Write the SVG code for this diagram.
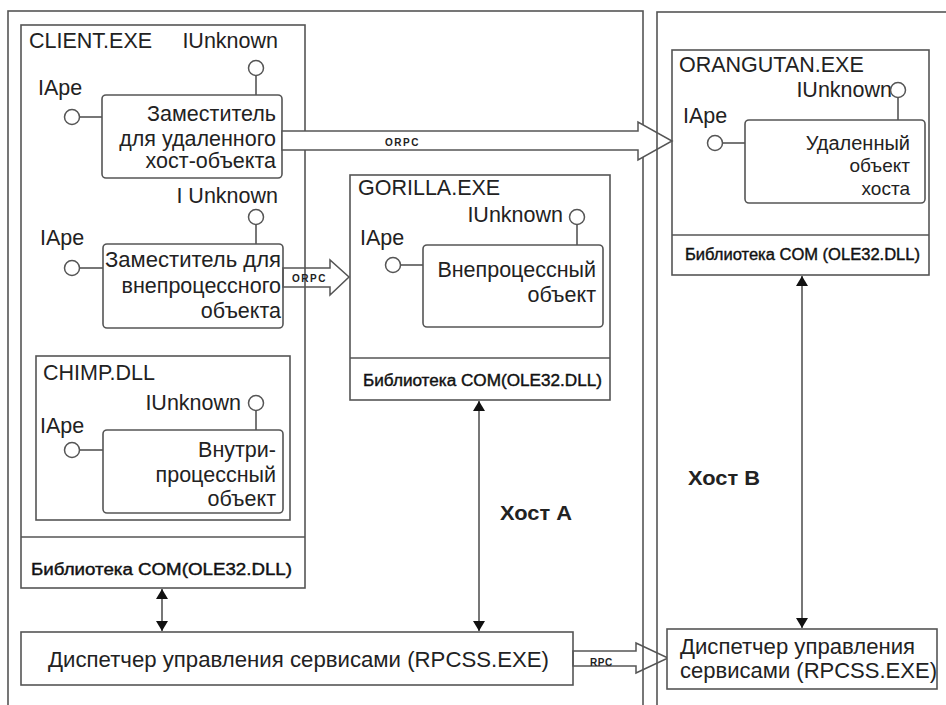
<svg xmlns="http://www.w3.org/2000/svg" width="946" height="705" viewBox="0 0 946 705">
<defs>
<style>
.box{fill:none;stroke:#555;stroke-width:1.6}
.ibox{fill:#fff;stroke:#555;stroke-width:1.6}
.ln{fill:none;stroke:#555;stroke-width:1.6}
.lol{fill:#fff;stroke:#555;stroke-width:1.5}
.t{font-family:"Liberation Sans",Arial,sans-serif;font-size:21.5px;fill:#222}
.tr{font-family:"Liberation Sans",Arial,sans-serif;font-size:21.5px;fill:#222;text-anchor:end}
.lib{font-family:"Liberation Sans",Arial,sans-serif;font-size:16px;fill:#111;stroke:#111;stroke-width:0.4}
.sm{font-family:"Liberation Sans",Arial,sans-serif;font-size:10px;font-weight:bold;fill:#222;letter-spacing:1.5px}
.host{font-family:"Liberation Sans",Arial,sans-serif;font-size:21px;font-weight:bold;fill:#222}
.arr{fill:none;stroke:#555;stroke-width:1.5}
.fat{fill:#fff;stroke:#555;stroke-width:1.5}
</style>
<marker id="ah" viewBox="0 0 10 14" refX="10" refY="7" markerWidth="10" markerHeight="14" markerUnits="userSpaceOnUse" orient="auto-start-reverse">
<path d="M0,1 L10,7 L0,13 Z" fill="#111"/>
</marker>
</defs>

<g id="hostA">
<rect class="box" x="8" y="11" width="635" height="710"/>
<text class="host" x="500" y="520" textLength="72" lengthAdjust="spacingAndGlyphs">Хост А</text>
</g>

<g id="client">
<rect class="box" x="21" y="25" width="284" height="563"/>
<line class="ln" x1="21" y1="537" x2="305" y2="537"/>
<text class="t" x="29" y="48">CLIENT.EXE</text>
<text class="lib" x="31" y="575" textLength="261" lengthAdjust="spacingAndGlyphs">Библиотека COM(OLE32.DLL)</text>
</g>

<g id="proxyRemote">
<rect class="ibox" x="102" y="95" width="180" height="83" rx="4"/>
<text class="tr" x="278" y="48">IUnknown</text>
<line class="ln" x1="256" y1="75" x2="256" y2="95"/>
<circle class="lol" cx="256" cy="68" r="7.5"/>
<text class="t" x="38" y="95">IApe</text>
<line class="ln" x1="79" y1="117" x2="102" y2="117"/>
<circle class="lol" cx="72" cy="117" r="7.5"/>
<text class="tr" x="276" y="121">Заместитель</text>
<text class="tr" x="276" y="146">для удаленного</text>
<text class="tr" x="276" y="168">хост-объекта</text>
</g>

<g id="proxyOut">
<rect class="ibox" x="103" y="244" width="180" height="84" rx="4"/>
<text class="tr" x="278" y="203">I Unknown</text>
<line class="ln" x1="256" y1="224" x2="256" y2="244"/>
<circle class="lol" cx="256" cy="217" r="7.5"/>
<text class="t" x="40" y="245">IApe</text>
<line class="ln" x1="79" y1="268" x2="103" y2="268"/>
<circle class="lol" cx="72" cy="268" r="7.5"/>
<text class="tr" x="281" y="267" textLength="176" lengthAdjust="spacingAndGlyphs">Заместитель для</text>
<text class="tr" x="281" y="293">внепроцессного</text>
<text class="tr" x="281" y="318">объекта</text>
</g>

<g id="chimp">
<rect class="box" x="36" y="356" width="254" height="164"/>
<text class="t" x="43" y="380">CHIMP.DLL</text>
<text class="tr" x="241" y="410">IUnknown</text>
<line class="ln" x1="256" y1="410" x2="256" y2="430"/>
<circle class="lol" cx="256" cy="403" r="7.5"/>
<text class="t" x="40" y="433">IApe</text>
<line class="ln" x1="79" y1="450" x2="103" y2="450"/>
<circle class="lol" cx="72" cy="450" r="7.5"/>
<rect class="ibox" x="103" y="430" width="180" height="83" rx="4"/>
<text class="tr" x="276" y="457">Внутри-</text>
<text class="tr" x="276" y="482">процессный</text>
<text class="tr" x="276" y="506">объект</text>
</g>

<g id="gorilla">
<rect class="box" x="350" y="175" width="260" height="225"/>
<line class="ln" x1="350" y1="358" x2="610" y2="358"/>
<text class="t" x="358" y="195">GORILLA.EXE</text>
<text class="tr" x="563" y="222">IUnknown</text>
<line class="ln" x1="577" y1="224" x2="577" y2="245"/>
<circle class="lol" cx="577" cy="217" r="7.5"/>
<text class="t" x="360" y="245">IApe</text>
<line class="ln" x1="400" y1="265" x2="423" y2="265"/>
<circle class="lol" cx="393" cy="265" r="7.5"/>
<rect class="ibox" x="423" y="245" width="180" height="82" rx="4"/>
<text class="tr" x="596" y="277">Внепроцессный</text>
<text class="tr" x="596" y="302">объект</text>
<text class="lib" x="363" y="386" textLength="239" lengthAdjust="spacingAndGlyphs">Библиотека COM(OLE32.DLL)</text>
</g>

<g id="rpcssA">
<rect class="box" x="21" y="632" width="552" height="53"/>
<text class="t" x="48" y="667" textLength="501" lengthAdjust="spacingAndGlyphs">Диспетчер управления сервисами (RPCSS.EXE)</text>
</g>

<g id="connectors">
<polygon class="fat" points="282,131 638,131 638,122 672,141 638,160 638,150 282,150"/>
<text class="sm" x="385" y="146">ORPC</text>
<polygon class="arr" points="283,268 330,268 330,260 349,277 330,295 330,287 283,287"/>
<text class="sm" x="292" y="282">ORPC</text>
<polygon class="arr" points="573,651 636,651 636,643 668,658 636,673 636,666 573,666"/>
<text class="sm" x="590" y="666" style="letter-spacing:0.5px">RPC</text>
<line class="ln" x1="162" y1="589" x2="162" y2="631" marker-start="url(#ah)" marker-end="url(#ah)"/>
<line class="ln" x1="479" y1="401" x2="479" y2="631" marker-start="url(#ah)" marker-end="url(#ah)"/>
<line class="ln" x1="802" y1="276" x2="802" y2="628" marker-start="url(#ah)" marker-end="url(#ah)"/>
</g>

<g id="hostB">
<rect class="box" x="657" y="12" width="300" height="710"/>
<text class="host" x="688" y="485" textLength="72" lengthAdjust="spacingAndGlyphs">Хост В</text>
</g>

<g id="orangutan">
<rect class="box" x="672" y="50" width="257" height="225"/>
<line class="ln" x1="672" y1="235" x2="929" y2="235"/>
<text class="t" x="679" y="72">ORANGUTAN.EXE</text>
<text class="tr" x="892" y="97">IUnknown</text>
<line class="ln" x1="898" y1="97" x2="898" y2="120"/>
<circle class="lol" cx="898" cy="90" r="7.5"/>
<text class="t" x="683" y="123">IApe</text>
<line class="ln" x1="722" y1="143" x2="745" y2="143"/>
<circle class="lol" cx="715" cy="143" r="7.5"/>
<rect class="ibox" x="745" y="120" width="180" height="83" rx="4"/>
<text class="tr" x="910" y="150" style="font-size:20px">Удаленный</text>
<text class="tr" x="910" y="172" style="font-size:19px">объект</text>
<text class="tr" x="910" y="195" style="font-size:19px">хоста</text>
<text class="lib" x="685" y="260" textLength="235" lengthAdjust="spacingAndGlyphs">Библиотека COM (OLE32.DLL)</text>
</g>

<g id="rpcssB">
<rect class="ibox" x="667" y="629" width="270" height="60"/>
<text class="t" x="680" y="654" textLength="235" lengthAdjust="spacingAndGlyphs">Диспетчер управления</text>
<text class="t" x="680" y="678" textLength="257" lengthAdjust="spacingAndGlyphs">сервисами (RPCSS.EXE)</text>
</g>
</svg>
